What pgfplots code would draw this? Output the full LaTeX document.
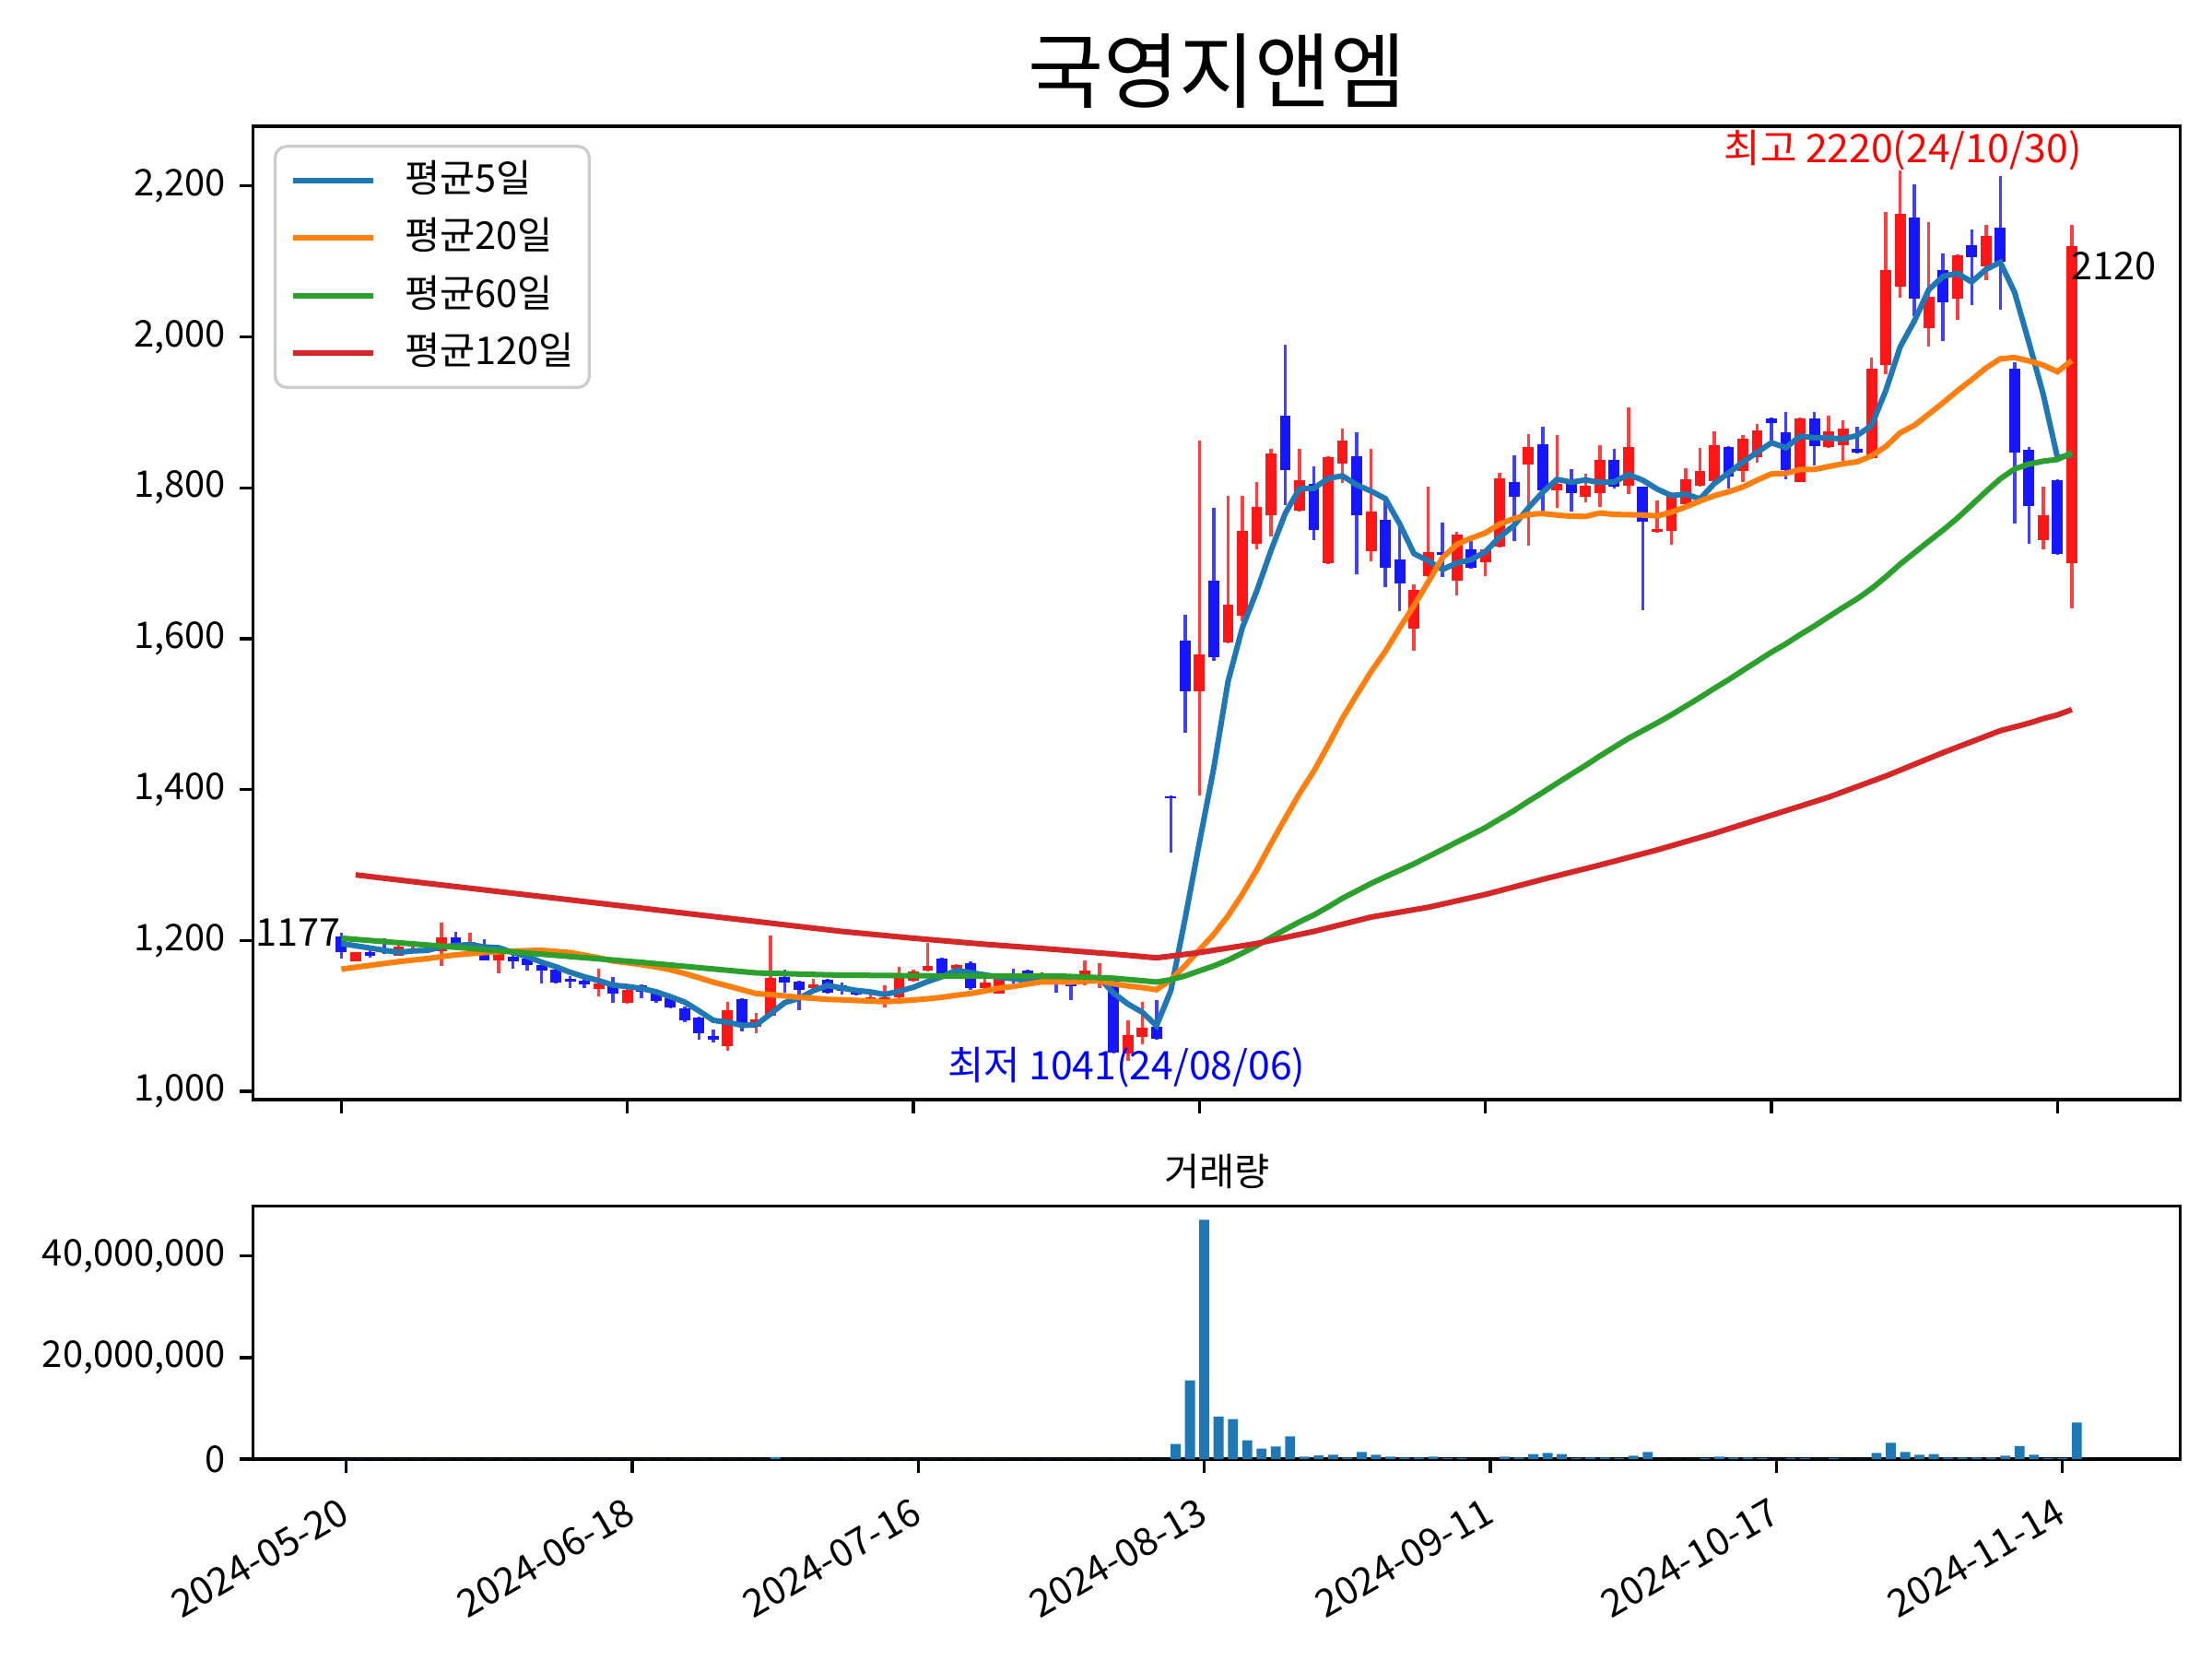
\documentclass[border=0pt]{standalone}
\usepackage{fontspec}
\setmainfont{Noto Sans CJK KR}
\usepackage{pgfplots}
\usepackage{pgfplotstable}
\pgfplotsset{compat=1.18}

\definecolor{upbody}{RGB}{255,22,22}
\definecolor{dnbody}{RGB}{22,22,255}
\definecolor{upwick}{RGB}{255,64,64}
\definecolor{dnwick}{RGB}{64,64,255}
\definecolor{maA}{HTML}{1F77B4}
\definecolor{maB}{HTML}{FF7F0E}
\definecolor{maC}{HTML}{2CA02C}
\definecolor{maD}{HTML}{D62728}
\definecolor{volc}{HTML}{1F77B4}
\definecolor{legframe}{RGB}{204,204,204}

\newcommand{\tfont}{\fontsize{10}{12}\selectfont}
\newcommand{\kfont}{\fontsize{9.6}{11.5}\selectfont}
\newcommand{\afont}{\fontsize{10.3}{12.4}\selectfont}

% up candles: index open high low close
\pgfplotstableread{
i O H L C
1 1172 1185 1172 1184
4 1180 1201 1180 1192
5 1186 1192 1184 1190
7 1186 1224 1166 1204
9 1192 1210 1188 1198
11 1174 1188 1157 1182
18 1136 1162 1126 1143
20 1117 1136 1116 1135
27 1060 1118 1054 1107
29 1086 1104 1077 1096
30 1100 1206 1099 1150
33 1137 1149 1133 1142
37 1122 1129 1117 1125
38 1117 1140 1111 1125
39 1125 1165 1124 1153
40 1147 1161 1146 1159
41 1160 1197 1159 1166
43 1162 1169 1160 1168
45 1137 1149 1135 1144
46 1130 1150 1129 1149
52 1151 1173 1140 1160
53 1149 1170 1137 1153
55 1050 1094 1041 1075
56 1072 1119 1063 1085
60 1530 1863 1392 1579
62 1595 1789 1594 1645
63 1631 1789 1623 1743
64 1726 1808 1719 1774
65 1764 1852 1735 1845
67 1770 1852 1769 1810
69 1700 1842 1699 1840
70 1832 1878 1806 1862
72 1716 1852 1702 1769
75 1613 1672 1584 1665
76 1683 1801 1682 1715
78 1677 1741 1657 1738
80 1701 1720 1683 1719
81 1722 1820 1721 1812
83 1831 1871 1723 1854
85 1797 1870 1773 1805
87 1788 1819 1781 1803
88 1793 1857 1775 1837
90 1803 1907 1792 1854
92 1741 1783 1740 1745
93 1743 1794 1725 1793
94 1778 1826 1777 1811
95 1803 1853 1802 1822
96 1809 1875 1808 1857
98 1822 1870 1807 1865
99 1841 1885 1833 1876
102 1808 1893 1807 1892
104 1854 1895 1853 1875
105 1856 1889 1836 1878
107 1839 1972 1838 1958
108 1963 2166 1951 2088
109 2067 2220 2052 2163
111 2011 2152 1987 2053
113 2051 2109 2023 2108
115 2094 2148 2075 2134
119 1731 1802 1718 1763
121 1700 2148 1640 2120
}\upc

% down candles
\pgfplotstableread{
i O H L C
0 1205 1210 1176 1184
2 1185 1188 1177 1180
3 1190 1203 1182 1185
6 1190 1192 1185 1187
8 1204 1211 1192 1194
10 1188 1202 1173 1174
12 1178 1184 1163 1172
13 1176 1180 1160 1168
14 1168 1170 1143 1160
15 1161 1162 1143 1144
16 1149 1153 1137 1145
17 1147 1151 1137 1142
19 1139 1151 1117 1130
21 1140 1142 1124 1132
22 1131 1133 1117 1120
23 1124 1125 1110 1111
24 1110 1113 1092 1094
25 1098 1099 1068 1077
26 1073 1082 1065 1069
28 1122 1123 1080 1091
31 1151 1161 1131 1144
32 1146 1147 1107 1135
34 1148 1149 1129 1131
35 1140 1144 1128 1133
36 1135 1136 1127 1128
42 1176 1177 1156 1157
44 1170 1172 1135 1137
47 1153 1162 1143 1149
48 1160 1161 1150 1155
49 1156 1158 1150 1153
50 1153 1157 1131 1147
51 1145 1149 1121 1139
54 1147 1149 1050 1052
57 1086 1121 1068 1070
58 1391 1392 1317 1388
59 1598 1632 1475 1530
61 1677 1773 1571 1576
66 1896 1990 1777 1823
68 1805 1828 1731 1744
71 1842 1873 1685 1763
73 1757 1786 1668 1694
74 1705 1754 1636 1673
77 1715 1754 1682 1711
79 1719 1729 1693 1694
82 1807 1843 1729 1788
84 1858 1881 1769 1797
86 1805 1825 1769 1793
89 1837 1852 1799 1801
91 1801 1802 1638 1755
97 1854 1855 1799 1815
100 1892 1893 1860 1886
101 1873 1901 1811 1823
103 1892 1901 1829 1855
106 1852 1881 1846 1847
110 2158 2202 2027 2051
112 2089 2111 1995 2046
114 2122 2142 2042 2106
116 2145 2213 2036 2100
117 1958 1966 1753 1847
118 1850 1854 1726 1776
120 1810 1811 1711 1712
}\dnc

% moving averages
\pgfplotstableread{
x y
0 1196
1 1193
2 1190
3 1187
4 1184.2
5 1186.2
6 1186.8
7 1191.6
8 1193.4
9 1194.6
10 1191.4
11 1190.4
12 1184.0
13 1178.8
14 1171.2
15 1165.2
16 1157.8
17 1151.8
18 1146.8
19 1140.8
20 1139.0
21 1136.4
22 1132.0
23 1125.6
24 1118.4
25 1106.8
26 1094.2
27 1091.6
28 1087.6
29 1088.0
30 1102.6
31 1117.6
32 1123.2
33 1133.4
34 1140.4
35 1137.0
36 1133.8
37 1131.8
38 1128.4
39 1132.8
40 1138.0
41 1145.6
42 1152.0
43 1160.6
44 1157.4
45 1154.4
46 1151.0
47 1149.4
48 1146.8
49 1150.0
50 1150.6
51 1148.6
52 1150.8
53 1150.4
54 1130.2
55 1115.8
56 1105.0
57 1087.0
58 1133.6
59 1229.2
60 1330.0
61 1428.2
62 1543.2
63 1614.6
64 1662.8
65 1716.6
66 1766.0
67 1799.0
68 1799.2
69 1812.4
70 1815.8
71 1803.8
72 1795.6
73 1785.6
74 1752.2
75 1712.8
76 1703.2
77 1691.6
78 1700.4
79 1704.6
80 1715.4
81 1734.8
82 1750.2
83 1773.4
84 1794.0
85 1811.2
86 1807.4
87 1810.4
88 1807.0
89 1807.8
90 1817.6
91 1810.0
92 1798.4
93 1789.6
94 1791.6
95 1785.2
96 1805.6
97 1819.6
98 1834.0
99 1847.0
100 1859.8
101 1853.0
102 1868.4
103 1866.4
104 1866.2
105 1864.6
106 1869.4
107 1882.6
108 1929.2
109 1986.8
110 2021.4
111 2062.6
112 2080.2
113 2084.2
114 2072.8
115 2089.4
116 2098.8
117 2059.0
118 1992.6
119 1924.0
120 1839.6
121 1843.6
}\maAtab

\pgfplotstableread{
x y
0 1162
2 1167
4 1172
6 1176
8 1181
10 1184
12 1186
14 1187
16 1184
18 1177
19 1172.7
20 1170.5
21 1167.9
22 1164.9
23 1161.2
24 1156.3
25 1150.6
26 1144.7
27 1139.9
28 1134.7
29 1129.6
30 1128.4
31 1126.5
32 1124.7
33 1123.4
34 1121.9
35 1121.4
36 1120.5
37 1119.7
38 1118.8
39 1119.9
40 1121.1
41 1122.8
42 1124.7
43 1127.5
44 1129.7
45 1133.0
46 1137.0
47 1139.1
48 1142.3
49 1145.2
50 1145.0
51 1144.8
52 1146.0
53 1146.6
54 1142.6
55 1139.7
56 1137.6
57 1134.8
58 1147.9
59 1166.7
60 1187.7
61 1208.2
62 1232.6
63 1261.4
64 1293.2
65 1328.3
66 1362.0
67 1395.0
68 1424.5
69 1458.8
70 1494.6
71 1525.8
72 1556.2
73 1583.3
74 1614.3
75 1643.8
76 1675.3
77 1707.4
78 1725.0
79 1733.2
80 1740.2
81 1752.0
82 1759.1
83 1764.7
84 1765.8
85 1763.8
86 1762.3
87 1762.0
88 1766.6
89 1764.7
90 1764.3
91 1763.9
92 1762.7
93 1767.6
94 1774.5
95 1782.4
96 1789.5
97 1794.7
98 1801.0
99 1810.1
100 1818.5
101 1819.0
102 1824.2
103 1824.3
104 1828.2
105 1831.8
106 1834.5
107 1842.3
108 1854.8
109 1872.9
110 1882.8
111 1897.7
112 1912.7
113 1928.5
114 1943.2
115 1958.8
116 1971.0
117 1972.6
118 1968.1
119 1962.5
120 1953.8
121 1968.6
}\maBtab

\pgfplotstableread{
x y
0 1203
10 1188
21 1171
25 1164
29 1157
35 1154
42 1153
50 1153
54 1150
57 1145
58 1148
59 1153.1
60 1159.8
61 1166.3
62 1174.0
63 1183.3
64 1193.0
65 1204.0
66 1214.6
67 1224.7
68 1233.8
69 1244.5
70 1256.0
71 1265.7
72 1275.6
73 1284.4
74 1292.9
75 1301.6
76 1311.1
77 1320.6
78 1330.5
79 1339.9
80 1349.7
81 1361.0
82 1372.1
83 1384.5
84 1396.2
85 1408.4
86 1420.4
87 1432.0
88 1444.5
89 1456.2
90 1467.9
91 1478.1
92 1488.3
93 1499.1
94 1510.5
95 1522.0
96 1534.1
97 1545.6
98 1557.9
99 1570.0
100 1582.1
101 1593.1
102 1605.3
103 1616.8
104 1629.1
105 1641.3
106 1652.9
107 1666.4
108 1682.0
109 1698.8
110 1713.9
111 1729.1
112 1743.9
113 1759.8
114 1777.3
115 1795.0
116 1811.9
117 1824.9
118 1831.4
119 1835.2
120 1837.5
121 1846.5
}\maCtab

\pgfplotstableread{
x y
1 1287
5 1278
10 1267
15 1256
20 1245
25 1234
30 1223
35 1212
40 1203
45 1195
50 1188
54 1182
57 1177
60 1184
64 1196
68 1212
72 1231
76 1244
80 1261
84 1281
88 1300
92 1320
96 1342
100 1366
104 1390
108 1418
112 1449
116 1478
118 1488
119 1494
120 1499
121 1506
}\maDtab

% volume
\pgfplotstableread{
x y
0 50000
1 50000
2 50000
3 50000
4 50000
5 50000
6 50000
7 50000
8 50000
9 50000
10 50000
11 50000
12 50000
13 50000
14 50000
15 50000
16 50000
17 50000
18 50000
19 50000
20 50000
21 50000
22 50000
23 50000
24 50000
25 50000
26 50000
27 50000
28 50000
29 50000
30 400000
31 50000
32 50000
33 50000
34 50000
35 50000
36 50000
37 50000
38 50000
39 50000
40 50000
41 50000
42 50000
43 50000
44 50000
45 50000
46 50000
47 50000
48 50000
49 50000
50 50000
51 50000
52 50000
53 50000
54 50000
55 50000
56 50000
57 50000
58 3000000
59 15500000
60 47100000
61 8400000
62 7900000
63 3700000
64 2100000
65 2500000
66 4500000
67 500000
68 700000
69 850000
70 300000
71 1400000
72 850000
73 500000
74 300000
75 300000
76 500000
77 200000
78 200000
79 50000
80 50000
81 500000
82 300000
83 1000000
84 1200000
85 1000000
86 200000
87 300000
88 300000
89 200000
90 660000
91 1400000
92 50000
93 50000
94 50000
95 200000
96 500000
97 300000
98 300000
99 200000
100 50000
101 200000
102 200000
103 50000
104 200000
105 50000
106 50000
107 1200000
108 3200000
109 1400000
110 850000
111 1000000
112 300000
113 300000
114 300000
115 300000
116 660000
117 2600000
118 850000
119 200000
120 200000
121 7200000
}\voltab

\pgfplotsset{
  mpl/.style={
    scale only axis,
    axis line style={line width=0.8pt},
    tick align=outside,
    xtick pos=bottom, ytick pos=left,
    major tick length=3.5pt,
    every tick/.style={black, line width=0.8pt},
    tick label style={font=\kfont},
    yticklabel style={inner sep=0pt},
    yticklabel shift=3.4pt,
    /pgf/number format/1000 sep={,},
    /pgf/number format/assume math mode=true,
  }
}

\begin{document}
\begin{tikzpicture}
\path[use as bounding box] (0,0) rectangle (8in,6in);

\begin{axis}[mpl,
  at={(0.915in,2.023in)}, anchor=south west,
  width=6.971in, height=3.52in,
  xmin=-6.18, xmax=128.6, ymin=989, ymax=2279,
  xtick={0,20,40,60,80,100,120}, xticklabels={},
  ytick={1000,1200,1400,1600,1800,2000,2200},
  clip=false,
  legend style={at={(0.0107,0.981)}, anchor=north west,
    draw=legframe, line width=0.8pt, rounded corners=3pt, fill=white,
    inner sep=4pt, font=\tfont, row sep=5pt, column sep=7.4pt,
    nodes={inner sep=0pt, text height=8pt, text depth=2pt, anchor=west}},
  legend cell align=left,
  legend image code/.code={\draw[#1, line width=1.45pt] (0pt,0pt) -- (21pt,0pt);},
]
% wicks
\addplot[draw=none, mark=none, forget plot, error bars/.cd, y dir=plus, y explicit, error mark=none,
  error bar style={draw=upwick, line width=0.85pt}]
  table[x=i, y=L, y error plus expr={\thisrow{H}-\thisrow{L}}] {\upc};
\addplot[draw=none, mark=none, forget plot, error bars/.cd, y dir=plus, y explicit, error mark=none,
  error bar style={draw=dnwick, line width=0.85pt}]
  table[x=i, y=L, y error plus expr={\thisrow{H}-\thisrow{L}}] {\dnc};
% bodies
\addplot[draw=none, mark=none, forget plot, error bars/.cd, y dir=plus, y explicit, error mark=none,
  error bar style={draw=upbody, line width=2.85pt}]
  table[x=i, y=O, y error plus expr={\thisrow{C}-\thisrow{O}}] {\upc};
\addplot[draw=none, mark=none, forget plot, error bars/.cd, y dir=plus, y explicit, error mark=none,
  error bar style={draw=dnbody, line width=2.85pt}]
  table[x=i, y=C, y error plus expr={\thisrow{O}-\thisrow{C}}] {\dnc};
% moving averages
\addplot[maA, line width=1.45pt, mark=none] table {\maAtab};
\addlegendentry{평균5일}
\addplot[maB, line width=1.45pt, mark=none] table {\maBtab};
\addlegendentry{평균20일}
\addplot[maC, line width=1.45pt, mark=none] table {\maCtab};
\addlegendentry{평균60일}
\addplot[maD, line width=1.45pt, mark=none] table {\maDtab};
\addlegendentry{평균120일}

\node[anchor=base, text=red, inner sep=0pt, font=\afont] at (axis cs:109.2,2231) {최고 2220(24/10/30)};
\node[anchor=base, text=blue, inner sep=0pt, font=\afont] at (axis cs:54.9,1015) {최저 1041(24/08/06)};
\node[anchor=base east, inner sep=0pt, font=\tfont] at (axis cs:0,1192) {1177};
\node[anchor=north west, inner sep=0pt, font=\tfont] at (axis cs:120.9,2114) {2120};
\end{axis}

\begin{axis}[mpl,
  at={(0.915in,0.723in)}, anchor=south west,
  width=6.971in, height=0.915in,
  xmin=-6.51, xmax=128.25, ymin=0, ymax=49.8e6,
  ytick={0,20000000,40000000}, scaled y ticks=false,
  yticklabel={\pgfmathprintnumber[fixed,1000 sep={,},assume math mode=true]{\tick}},
  xtick={0,20,40,60,80,100,120},
  xticklabels={2024-05-20,2024-06-18,2024-07-16,2024-08-13,2024-09-11,2024-10-17,2024-11-14},
  xticklabel style={xshift=-2.1pt, rotate=30, anchor=north east, inner sep=0pt, font=\tfont},
  xticklabel shift=6pt,
]
\addplot[ybar, bar width=0.7, bar shift=0pt, fill=volc, draw=none] table {\voltab};
\end{axis}

\node[font=\fontsize{21.5}{26}\selectfont] at (4.401in,5.743in) {국영지앤엠};
\node[font=\tfont] at (4.401in,1.763in) {거래량};
\end{tikzpicture}
\end{document}
